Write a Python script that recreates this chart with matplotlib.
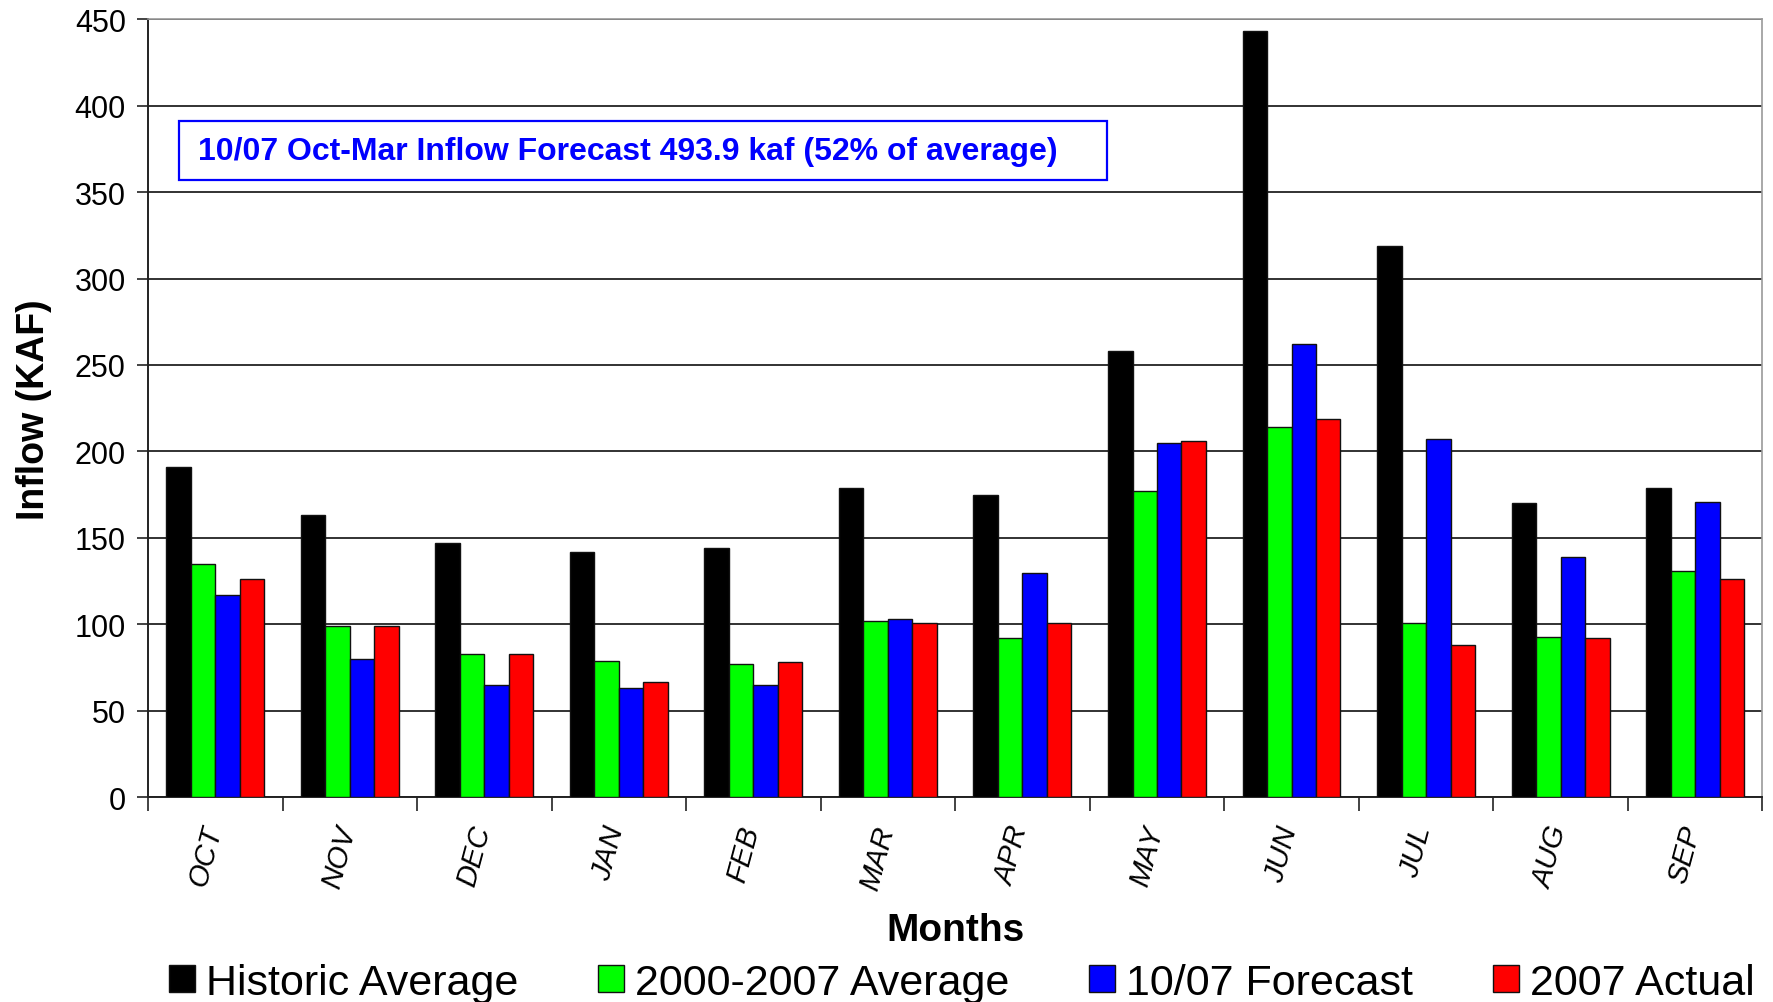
import numpy as np
import matplotlib.pyplot as plt
import matplotlib.transforms as mtransforms
from matplotlib.patches import Rectangle

months = ['OCT', 'NOV', 'DEC', 'JAN', 'FEB', 'MAR', 'APR', 'MAY', 'JUN', 'JUL', 'AUG', 'SEP']
historic = [191, 163, 147, 142, 144, 179, 175, 258, 443, 319, 170, 179]
avg_2000_2007 = [135, 99, 83, 79, 77, 102, 92, 177, 214, 101, 93, 131]
forecast = [117, 80, 65, 63, 65, 103, 130, 205, 262, 207, 139, 171]
actual_2007 = [126, 99, 83, 67, 78, 101, 101, 206, 219, 88, 92, 126]

series = [
    ('Historic Average', historic, '#000000'),
    ('2000-2007 Average', avg_2000_2007, '#00ff00'),
    ('10/07 Forecast', forecast, '#0000ff'),
    ('2007 Actual', actual_2007, '#ff0000'),
]

plt.rcParams['font.family'] = ['Liberation Sans', 'DejaVu Sans']

fig = plt.figure(figsize=(17.73, 10.03), dpi=100)
ax = fig.add_axes([0.0835, 0.204, 0.9105, 0.776])

x = np.arange(len(months))
w = 0.182
for i, (name, vals, col) in enumerate(series):
    ax.bar(x + (i - 1.5) * w, vals, w, color=col, edgecolor='#111111', linewidth=1.0,
           label=name, zorder=3)

ax.set_xlim(-0.5, len(months) - 0.5)
ax.set_ylim(0, 450)
ax.set_yticks(np.arange(0, 451, 50))
ax.yaxis.grid(True, color='#222222', linewidth=1.3, zorder=0)
ax.tick_params(axis='y', labelsize=22, length=8, width=1.2, color='#222222', pad=8)

ax.set_xticks(x)
ax.set_xticklabels(months, rotation=75, fontsize=21, style='italic', ha='center')
ax.set_xticks(np.arange(-0.5, len(months)), minor=True)
ax.tick_params(axis='x', which='major', length=0, pad=18)
ax.tick_params(axis='x', which='minor', length=10, width=1.2, color='#222222')
# nudge the slanted month names a little to the left
shift = mtransforms.ScaledTranslation(-10 / 100, 0, fig.dpi_scale_trans)
for lbl in ax.get_xticklabels():
    lbl.set_transform(lbl.get_transform() + shift)

for s in ['top', 'right']:
    ax.spines[s].set_color('#999999')
    ax.spines[s].set_linewidth(1.2)
for s in ['left', 'bottom']:
    ax.spines[s].set_color('#222222')
    ax.spines[s].set_linewidth(1.4)

ax.set_ylabel('Inflow (KAF)', fontsize=27, fontweight='bold', labelpad=16)
ax.set_xlabel('Months', fontsize=28, fontweight='bold', labelpad=14)

# forecast note box
ax.add_patch(Rectangle((0.019, 0.793), 0.575, 0.076, transform=ax.transAxes,
                       facecolor='white', edgecolor='#0000ff', linewidth=1.6, zorder=4))
ax.text(0.031, 0.831, '10/07 Oct-Mar Inflow Forecast 493.9 kaf (52% of average)',
        transform=ax.transAxes, color='#0000ff', fontsize=23, fontweight='bold',
        va='center', ha='left', zorder=5)

fig.legend(loc='center', bbox_to_anchor=(0.5425, 0.019), ncol=4, frameon=False,
           fontsize=31, handlelength=0.6, handleheight=0.6, handletextpad=0.26,
           columnspacing=1.85, borderaxespad=0)

fig.savefig('out.png', dpi=100, facecolor='white')
